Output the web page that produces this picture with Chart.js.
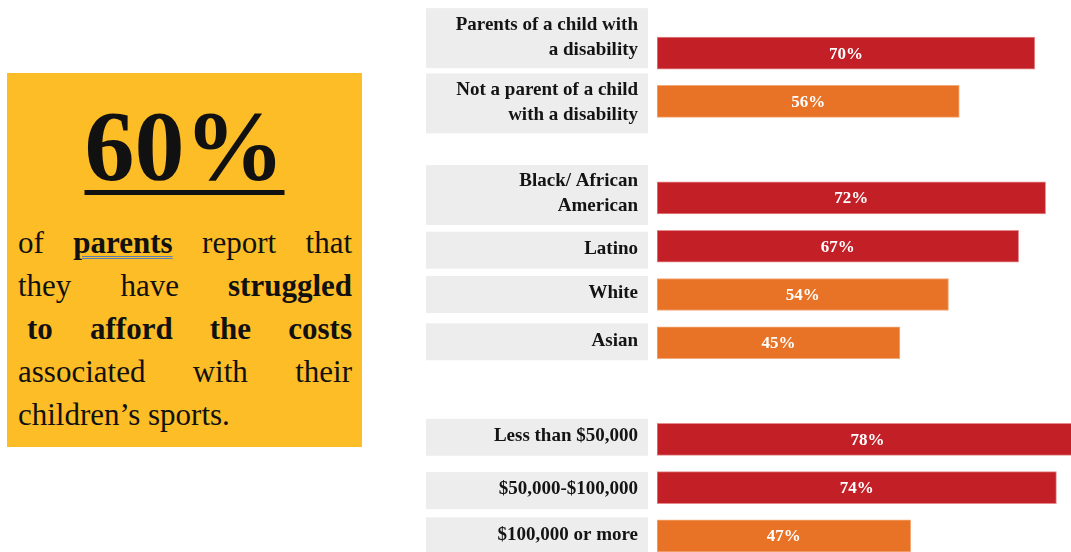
<!DOCTYPE html>
<html lang="en">
<head>
<meta charset="utf-8">
<title>Sports costs</title>
<script src="https://cdn.jsdelivr.net/npm/chart.js@4"></script>
<style>
  html, body { margin: 0; padding: 0; background: #fff; overflow: hidden; }
  #wrap { position: relative; width: 1071px; height: 552px; }
  #bars { position: absolute; left: 0; top: 0; }
  #callout {
    position: absolute; left: 7px; top: 73px; width: 355px; height: 374px;
    background: #fdbd26; font-family: "Liberation Serif", serif; color: #111;
  }
  #big {
    position: absolute; left: 0; top: 23px; width: 100%; text-align: center;
    font-size: 100px; font-weight: bold; line-height: 100px;
    text-decoration: underline; text-decoration-thickness: 5px; text-underline-offset: 11px;
  }
  #blurb { position: absolute; left: 11px; top: 148px; width: 334px; font-size: 31px; line-height: 43px; }
  #blurb div { text-align: justify; text-align-last: justify; white-space: nowrap; }
  #blurb div.last { text-align-last: left; }
  .spell { text-decoration: underline double #5b7db5; text-decoration-thickness: 1px; text-underline-offset: 3px; }
</style>
</head>
<body>
<div id="wrap">
  <canvas id="bars" width="1071" height="561"></canvas>
  <div id="callout">
    <div id="big">60%</div>
    <div id="blurb">
      <div>of <b class="spell">parents</b> report that</div>
      <div>they have <b>struggled</b></div>
      <div style="padding-left:9px"><b>to afford the costs</b></div>
      <div>associated with their</div>
      <div class="last">children&#8217;s sports.</div>
    </div>
  </div>
</div>

<script>

// groups are separated by empty slots
var groups = [
  ['Parents of a child with', 'a disability'],
  ['Not a parent of a child', 'with a disability'],
  '',
  ['Black/ African', 'American'],
  'Latino',
  'White',
  'Asian',
  '',
  'Less than $50,000',
  '$50,000-$100,000',
  '$100,000 or more'
];

var struggled = [70, 56, null, 72, 67, 54, 45, null, 78, 74, 47];

var RED = '#c21f26';
var ORANGE = '#e87225';

// grey boxes with the row names, drawn left of the bars
var rowNames = {
  id: 'rowNames',
  beforeDatasetsDraw: function(chart, args, opts){
    var ctx = chart.ctx;
    var y = chart.scales.y;
    ctx.save();
    chart.data.labels.forEach(function(lab, i){
      if(!lab || lab.length == 0) return;
      var lines = Array.isArray(lab) ? lab : [lab];
      var h = lines.length > 1 ? 60 : 37;
      var cy = y.getPixelForValue(i) + (opts.shift[i] || 0);
      ctx.fillStyle = '#ededed';
      ctx.fillRect(426, cy - h/2, 222, h);
      ctx.fillStyle = '#141414';
      ctx.font = 'bold 19px "Liberation Serif"';
      ctx.textAlign = 'right';
      ctx.textBaseline = 'middle';
      lines.forEach(function(t, k){
        ctx.fillText(t, 638, cy - 1 + (k - (lines.length - 1)/2) * 25);
      });
    });
    ctx.restore();
  }
};

// percentage written in the middle of each bar
var barValues = {
  id: 'barValues',
  afterDatasetsDraw: function(chart){
    var ctx = chart.ctx;
    var meta = chart.getDatasetMeta(0);
    var vals = chart.data.datasets[0].data;
    ctx.save();
    ctx.fillStyle = '#fff';
    ctx.font = 'bold 17px "Liberation Serif"';
    ctx.textAlign = 'center';
    ctx.textBaseline = 'middle';
    meta.data.forEach(function(bar, i){
      if(vals[i] == null) return;
      ctx.fillText(vals[i] + '%', (bar.x + bar.base)/2, bar.y + 1);
    });
    ctx.restore();
  }
};

function go(){
  var ctx = document.getElementById('bars');
  new Chart(ctx, {
    type: 'bar',
    data: {
      labels: groups,
      datasets: [{
        data: struggled,
        backgroundColor: function(c){ return c.raw >= 60 ? RED : ORANGE; },
        borderColor: function(c){ return c.raw >= 60 ? '#e58a8d' : '#f3aa78'; },
        borderWidth: 1,
        borderSkipped: false,
        barThickness: 32
      }]
    },
    options: {
      indexAxis: 'y',
      responsive: false,
      animation: false,
      devicePixelRatio: 1,
      layout: { padding: { left: 657, right: 0, top: 29, bottom: 1 } },
      scales: {
        x: { type: 'linear', min: 0, max: 76.7, display: false },
        y: { display: false }
      },
      plugins: {
        legend: { display: false },
        tooltip: { enabled: false },
        rowNames: { shift: [-15, 2, 0, -3, 4, 0, -1, 0, -2, 3, 0] }
      }
    },
    plugins: [rowNames, barValues]
  });
}

go();
</script>
</body>
</html>
